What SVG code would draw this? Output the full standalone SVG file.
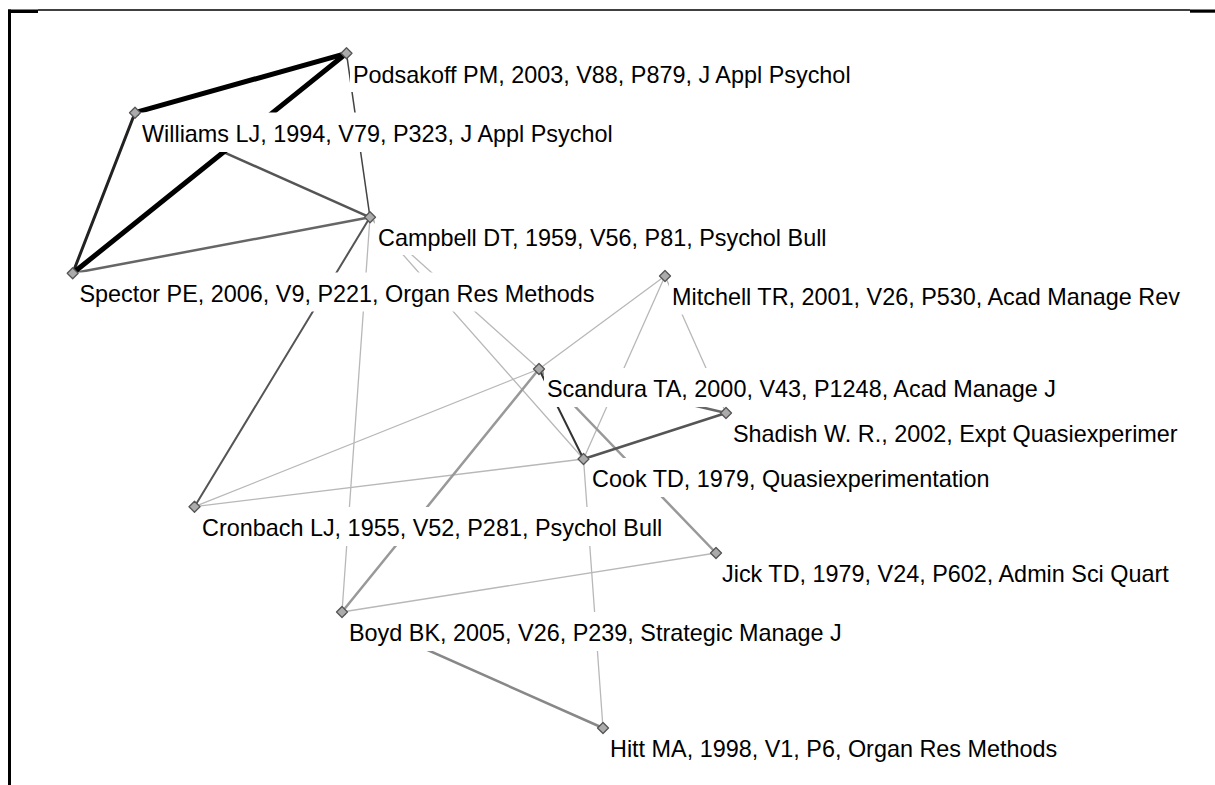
<svg xmlns="http://www.w3.org/2000/svg" width="1215" height="785" viewBox="0 0 1215 785">
<style>
  .lbl { font-family: "Liberation Sans", Arial, sans-serif; font-size: 23.4px; fill: #000; }
  .box { fill: #fff; stroke: none; }
  .nd { fill: #ababab; stroke: #555; stroke-width: 1.3; stroke-linejoin: round; }
  .e { fill: none; stroke-linecap: round; }
  .lt { stroke: #b8b8b8; stroke-width: 1.3; }
</style>
<defs>
  <path id="dia" d="M0,-5.5 L5.5,0 L0,5.5 L-5.5,0 Z"/>
</defs>
<rect x="0" y="0" width="1215" height="785" fill="#fff"/>
<g id="frame">
  <rect x="8" y="9.5" width="30" height="3.5" fill="#000"/>
  <line x1="38" y1="10" x2="1190" y2="10" stroke="#000" stroke-width="1.6"/>
  <rect x="1190" y="9.5" width="25" height="3.2" fill="#000"/>
  <rect x="8" y="9.5" width="3" height="775.5" fill="#000"/>
</g>
<g id="connectors">
  <line class="e lt" x1="370" y1="217.3" x2="342" y2="612"/>
  <line class="e lt" x1="370" y1="217.3" x2="583.5" y2="459"/>
  <line class="e lt" x1="370" y1="217.3" x2="539" y2="369"/>
  <line class="e lt" x1="665" y1="276" x2="539" y2="369"/>
  <line class="e lt" x1="665" y1="276" x2="583.5" y2="459"/>
  <line class="e lt" x1="665" y1="276" x2="726" y2="413"/>
  <line class="e lt" x1="539" y1="369" x2="194.5" y2="506.7"/>
  <line class="e lt" x1="583.5" y1="459" x2="194.5" y2="506.7"/>
  <line class="e lt" x1="583.5" y1="459" x2="603" y2="728"/>
  <line class="e lt" x1="342" y1="612" x2="716" y2="553"/>
  <line class="e" stroke="#999" stroke-width="2.5" x1="539" y1="369" x2="342" y2="612"/>
  <line class="e" stroke="#999" stroke-width="2.5" x1="539" y1="369" x2="716" y2="553"/>
  <line class="e" stroke="#888" stroke-width="2.5" x1="342" y1="612" x2="603" y2="728"/>
  <line class="e" stroke="#666" stroke-width="2.5" x1="539" y1="369" x2="726" y2="413"/>
  <line class="e" stroke="#555" stroke-width="2.5" x1="583.5" y1="459" x2="726" y2="413"/>
  <line class="e" stroke="#333" stroke-width="2" x1="539" y1="369" x2="583.5" y2="459"/>
  <line class="e" stroke="#555" stroke-width="2" x1="370" y1="217.3" x2="194.5" y2="506.7"/>
  <line class="e" stroke="#666" stroke-width="2.5" x1="72.7" y1="273.3" x2="370" y2="217.3"/>
  <line class="e" stroke="#555" stroke-width="2.5" x1="135" y1="112.7" x2="370" y2="217.3"/>
  <line class="e" stroke="#444" stroke-width="1.5" x1="346.5" y1="53.3" x2="370" y2="217.3"/>
  <line class="e" stroke="#222" stroke-width="3" x1="135" y1="112.7" x2="72.7" y2="273.3"/>
  <line class="e" stroke="#000" stroke-width="5" x1="346.5" y1="53.3" x2="135" y2="112.7"/>
  <line class="e" stroke="#000" stroke-width="5" x1="346.5" y1="53.3" x2="72.7" y2="273.3"/>
</g>
<g id="podsakoff">
  <rect class="box" x="350" y="53" width="506" height="39"/>
  <text class="lbl" x="353" y="83">Podsakoff PM, 2003, V88, P879, J Appl Psychol</text>
  <use href="#dia" class="nd" x="346.5" y="53.3"/>
</g>
<g id="williams">
  <rect class="box" x="139" y="112.5" width="478" height="39.5"/>
  <text class="lbl" x="142" y="142">Williams LJ, 1994, V79, P323, J Appl Psychol</text>
  <use href="#dia" class="nd" x="135" y="112.7"/>
</g>
<g id="campbell">
  <rect class="box" x="375" y="216" width="458" height="39"/>
  <text class="lbl" x="378" y="246">Campbell DT, 1959, V56, P81, Psychol Bull</text>
  <use href="#dia" class="nd" x="370" y="217.3"/>
</g>
<g id="spector">
  <rect class="box" x="76" y="272.5" width="522" height="39"/>
  <text class="lbl" x="79.5" y="302">Spector PE, 2006, V9, P221, Organ Res Methods</text>
  <use href="#dia" class="nd" x="72.7" y="273.3"/>
</g>
<g id="mitchell">
  <rect class="box" x="669" y="275.5" width="520" height="39"/>
  <text class="lbl" x="672" y="305">Mitchell TR, 2001, V26, P530, Acad Manage Rev</text>
  <use href="#dia" class="nd" x="665" y="276"/>
</g>
<g id="scandura">
  <rect class="box" x="544" y="368" width="522" height="39"/>
  <text class="lbl" x="547" y="397">Scandura TA, 2000, V43, P1248, Acad Manage J</text>
  <use href="#dia" class="nd" x="539" y="369"/>
</g>
<g id="shadish">
  <rect class="box" x="730" y="413" width="458" height="39"/>
  <text class="lbl" x="733" y="442">Shadish W. R., 2002, Expt Quasiexperimer</text>
  <use href="#dia" class="nd" x="726" y="413"/>
</g>
<g id="cook">
  <rect class="box" x="589" y="458" width="406" height="39"/>
  <text class="lbl" x="592" y="487">Cook TD, 1979, Quasiexperimentation</text>
  <use href="#dia" class="nd" x="583.5" y="459"/>
</g>
<g id="cronbach">
  <rect class="box" x="199" y="507" width="467" height="39"/>
  <text class="lbl" x="202" y="536">Cronbach LJ, 1955, V52, P281, Psychol Bull</text>
  <use href="#dia" class="nd" x="194.5" y="506.7"/>
</g>
<g id="jick">
  <rect class="box" x="719" y="553" width="456" height="39"/>
  <text class="lbl" x="722" y="582">Jick TD, 1979, V24, P602, Admin Sci Quart</text>
  <use href="#dia" class="nd" x="716" y="553"/>
</g>
<g id="boyd">
  <rect class="box" x="346" y="612" width="494" height="39"/>
  <text class="lbl" x="349" y="641">Boyd BK, 2005, V26, P239, Strategic Manage J</text>
  <use href="#dia" class="nd" x="342" y="612"/>
</g>
<g id="hitt">
  <rect class="box" x="607" y="728" width="455" height="39"/>
  <text class="lbl" x="610" y="757">Hitt MA, 1998, V1, P6, Organ Res Methods</text>
  <use href="#dia" class="nd" x="603" y="728"/>
</g>
</svg>
